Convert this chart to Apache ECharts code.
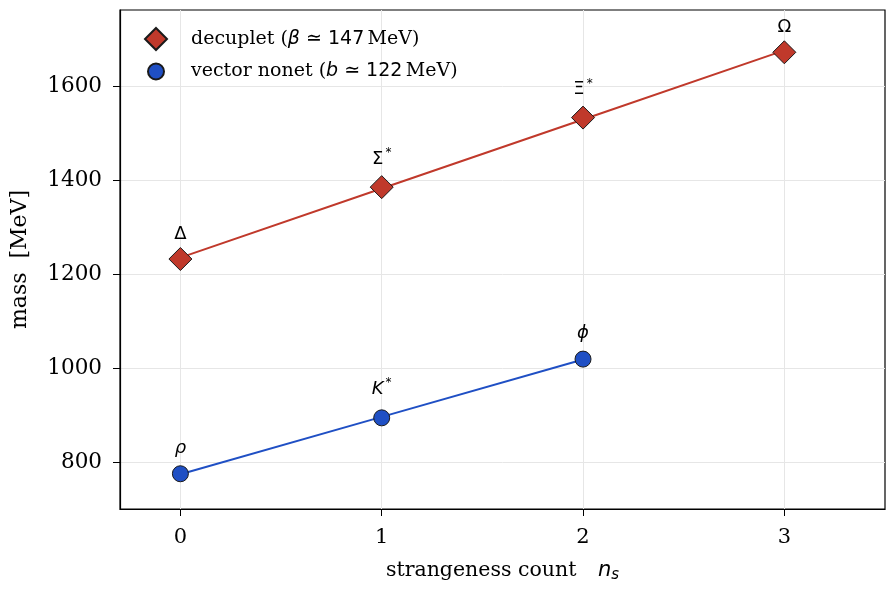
<!DOCTYPE html>
<html>
<head>
<meta charset="utf-8">
<script src="https://cdn.jsdelivr.net/npm/echarts@6/dist/echarts.min.js"></script>
<style>
  html, body { margin: 0; padding: 0; background: #fff; }
  #chart { width: 896px; height: 590px; }
</style>
</head>
<body>
<div id="chart"></div>
<script>
// strangeness count for each state
const decupletNs = [0, 1, 2, 3]
const decupletMass = [1232, 1385, 1533, 1672]
const decupletNames = ['Δ', 'Σ{sup|*}', 'Ξ{sup|*}', 'Ω']
const decupletFit = [1235, 1382, 1529, 1676]

const vectorNs = [0, 1, 2]
const vectorMass = [775, 894, 1019]
const vectorNames = ['{it|ρ}', '{it|K}{sup|*}', '{it|ϕ}']
const vectorFit = [774, 896, 1018]

const xTicks = [0, 1, 2, 3]
const yTicks = [800, 1000, 1200, 1400, 1600]

const RED = '#c0392b'
const BLUE = '#1f4fc4'
const SERIF = 'DejaVu Serif'
const SANS = 'DejaVu Sans'

const pointLabelRich = {
  it: { fontFamily: SANS, fontStyle: 'italic', fontSize: 18, color: '#000' },
  sup: { fontFamily: SANS, fontSize: 12, color: '#000', padding: [0, 0, 12, 2] },
}

const legendRich = {
  s: { fontFamily: SERIF, fontSize: 19, color: '#000' },
  i: { fontFamily: SANS, fontStyle: 'italic', fontSize: 19, color: '#000' },
  m: { fontFamily: SANS, fontSize: 19, color: '#000' },
}

function pairs(xs, ys) {
  return xs.map((x, i) => [x, ys[i]])
}

const chart = echarts.init(document.getElementById('chart'), null, { renderer: 'canvas' })

chart.setOption({
  animation: false,
  grid: {
    left: 120,
    right: 11,
    top: 10,
    bottom: 81,
    show: true,
    borderColor: '#000',
    borderWidth: 1.2,
  },
  legend: [
    {
      left: 139,
      top: 22,
      itemWidth: 22,
      itemHeight: 22,
      data: [{ name: 'decuplet', icon: 'diamond' }],
      formatter: () => '{s|decuplet (}{i|β}{m| ≃ 147} {s|MeV)}',
      textStyle: { padding: [0, 0, 0, 19], rich: legendRich },
    },
    {
      left: 142,
      top: 57,
      itemWidth: 16,
      itemHeight: 16,
      data: [{ name: 'vector', icon: 'circle' }],
      formatter: () => '{s|vector nonet (}{i|b}{m| ≃ 122} {s|MeV)}',
      textStyle: { padding: [0, 0, 0, 22], rich: legendRich },
    },
  ],
  xAxis: {
    type: 'value',
    min: -0.3,
    max: 3.5,
    name: 'strangeness count {i|n}{sub|s}',
    nameLocation: 'middle',
    nameGap: 50,
    nameTextStyle: {
      fontFamily: SERIF,
      fontSize: 20.5,
      color: '#000',
      rich: {
        i: { fontFamily: SANS, fontStyle: 'italic', fontSize: 21, color: '#000', padding: [0, 0, 0, 15] },
        sub: { fontFamily: SANS, fontStyle: 'italic', fontSize: 15, color: '#000', padding: [9, 0, 0, 0] },
      },
    },
    axisLine: { show: true, onZero: false, lineStyle: { color: '#000', width: 1.2 } },
    axisTick: { show: true, length: 7, lineStyle: { color: '#000' }, customValues: xTicks },
    axisLabel: {
      customValues: xTicks,
      fontFamily: SERIF,
      fontSize: 21,
      color: '#000',
      margin: 18,
    },
    splitLine: { show: true, lineStyle: { color: '#e6e6e6', width: 1 } },
  },
  yAxis: {
    type: 'value',
    min: 700,
    max: 1762,
    name: 'mass  [MeV]',
    nameLocation: 'middle',
    nameGap: 89,
    nameTextStyle: { fontFamily: SERIF, fontSize: 22, color: '#000' },
    axisLine: { show: true, onZero: false, lineStyle: { color: '#000', width: 1.2 } },
    axisTick: { show: true, length: 7, lineStyle: { color: '#000' }, customValues: yTicks },
    axisLabel: {
      customValues: yTicks,
      formatter: (v) => String(v),
      fontFamily: SERIF,
      fontSize: 21.5,
      color: '#000',
      margin: 18,
    },
    splitLine: { show: true, lineStyle: { color: '#e6e6e6', width: 1 } },
  },
  series: [
    {
      name: 'decuplet fit',
      type: 'line',
      data: pairs(decupletNs, decupletFit),
      showSymbol: false,
      lineStyle: { color: RED, width: 2 },
      z: 2,
    },
    {
      name: 'vector fit',
      type: 'line',
      data: pairs(vectorNs, vectorFit),
      showSymbol: false,
      lineStyle: { color: BLUE, width: 2 },
      z: 2,
    },
    {
      name: 'decuplet',
      type: 'scatter',
      symbol: 'diamond',
      symbolSize: 23,
      data: pairs(decupletNs, decupletMass),
      itemStyle: { color: RED, opacity: 1, borderColor: '#1a1a1a', borderWidth: 1 },
      label: {
        show: true,
        position: 'top',
        distance: 4,
        formatter: (p) => decupletNames[p.dataIndex],
        fontFamily: SANS,
        fontSize: 18,
        color: '#000',
        rich: pointLabelRich,
      },
      z: 3,
    },
    {
      name: 'vector',
      type: 'scatter',
      symbol: 'circle',
      symbolSize: 16,
      data: pairs(vectorNs, vectorMass),
      itemStyle: { color: BLUE, opacity: 1, borderColor: '#1a1a1a', borderWidth: 1 },
      label: {
        show: true,
        position: 'top',
        distance: 8,
        formatter: (p) => vectorNames[p.dataIndex],
        fontFamily: SANS,
        fontSize: 18,
        color: '#000',
        rich: pointLabelRich,
      },
      z: 3,
    },
  ],
})
</script>
</body>
</html>
